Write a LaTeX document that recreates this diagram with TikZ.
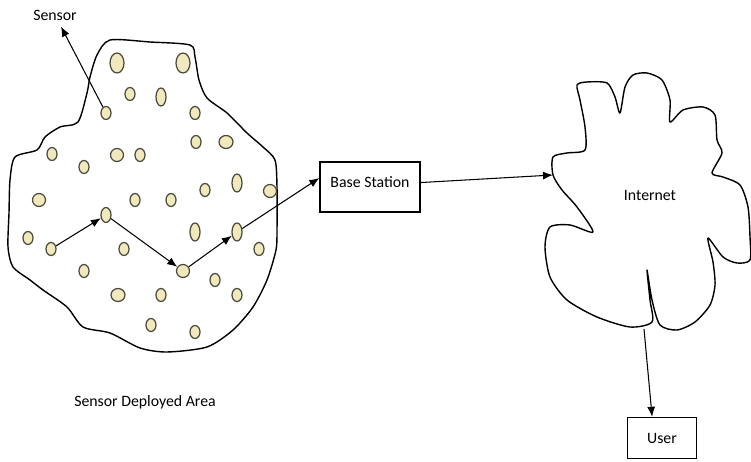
\documentclass[tikz,border=0pt]{standalone}
\usepackage{fontspec}
\setmainfont{Carlito}
\usepackage{color}
\definecolor{dotfill}{HTML}{F2E8BE}
\definecolor{dotline}{HTML}{4A4A3C}

\tikzset{
  sensor/.style={ellipse, draw=dotline, fill=dotfill, line width=0.7pt, inner sep=0pt},
  boxnode/.style={draw, thick, rectangle, inner sep=0pt},
  edge/.style={thick, line join=round}
}

\begin{document}
\usetikzlibrary{shapes.geometric,arrows.meta}
\begin{tikzpicture}[x=0.02cm, y=-0.02cm, >={Latex[length=2mm,width=1.6mm]}, semithick,
                    font=\fontsize{9}{11}\selectfont]
            \useasboundingbox (0,0) rectangle (751,462);

            % sensor deployed area
            \draw[edge] plot[smooth cycle, tension=0.45] coordinates {
              (110,40) (150,42) (190,45) (195,57) (199,80) (207,98) (227,113)
              (247,133) (263,147) (275,160) (277,187) (277,230) (276,250)
              (267,280) (253,307) (233,330) (207,347) (167,352) (140,348)
              (110,333) (83,327) (67,307) (43,290) (30,280) (13,267) (8,247)
              (9,213) (10,180) (15,157) (37,150) (45,137) (60,127) (78,122)
              (87,93) (90,77) (97,55)};

            \foreach \n/\x/\y/\w/\h in {
              1/117/63/2.8/4, 2/183/63/2.8/4, 3/130/94/2/2.6, 4/161/97/2/3.6,
              5/106/113/2/2.6, 6/195/113/2/2.6, 7/196/142/2/2.6, 8/226/142/2.8/2.6,
              9/52/154/2/2.6, 10/117/155/2.6/2.6, 11/140/155/2/2.6, 12/84/167/2/2.6,
              13/205/190/2/2.6, 14/237/183/2/3.6, 15/270/191/2.6/2.6, 16/39/200/2.6/2.6,
              17/135/200/2/2.6, 18/171/200/2/2.6, 19/106/215/2/3, 20/28/238/2/2.6,
              21/51/249/2/2.6, 22/124/249/2/2.6, 23/195/232/2/3.6, 24/237/232/2/3.6,
              25/259/249/2/2.6, 26/84/271/2/2.6, 27/183/271/2.6/2.6, 28/215/280/2/2.6,
              29/118/295/2.8/2.6, 30/161/295/2/2.6, 31/237/295/2/2.6, 32/151/325/2/2.6,
              33/195/332/2/2.6}
              \node[sensor, minimum width=\w mm, minimum height=\h mm] (S\n) at (\x,\y) {};

            \node (SL) at (55,15) {Sensor};
            \node (SDA) at (145,402) {Sensor Deployed Area};
            \node[boxnode, minimum width=20mm, minimum height=10mm, text depth=6pt] (BS) at (370,187) {Base Station};
            \node (NET) at (650,195) {Internet};
            \node[boxnode, minimum width=13.8mm, minimum height=8.2mm] (USR) at (662,438) {User};

            % internet cloud
            \draw[edge] plot[smooth cycle, tension=0.45] coordinates {
              (553,175) (553,157) (567,153) (585,150) (585,127) (580,100) (577,85)
              (587,82) (607,83) (615,97) (620,113) (625,87) (633,75) (647,73)
              (662,80) (670,100) (670,122) (683,110) (703,107) (715,115) (717,140)
              (722,153) (712,173) (723,177) (740,185) (748,207) (750,237) (750,260)
              (737,263) (723,257) (708,238) (713,262) (715,285) (710,305) (695,322)
              (677,330) (660,325) (652,300) (647,270) (650,300) (652,322) (630,327)
              (597,317) (567,300) (550,277) (545,247) (550,227) (570,225) (593,232)
              (577,207) (562,190)};
            \coordinate (NETIN) at (553,175);
            \coordinate (NETOUT) at (644,329);

            \draw[->] (S5) to (SL);
            \draw[->] (S21) to (S19);
            \draw[->] (S19) to (S27);
            \draw[->] (S27) to (S24);
            \draw[->] (S24) to (BS.170);
            \draw[->] (BS.5) to (NETIN);
            \draw[->] (NETOUT) to (USR.115);
          \end{tikzpicture}
\end{document}
